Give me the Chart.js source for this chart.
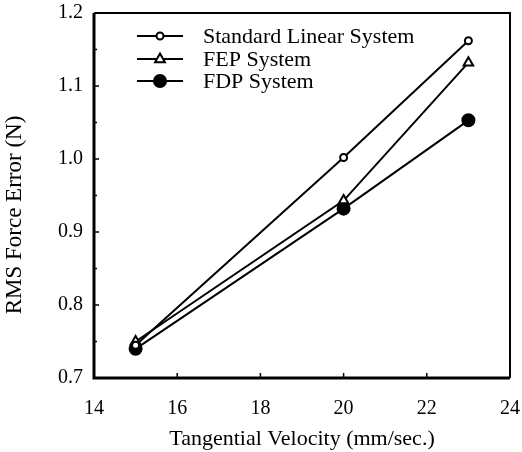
<!DOCTYPE html>
<html>
<head>
<meta charset="utf-8">
<script src="https://cdn.jsdelivr.net/npm/chart.js@4.4.1/dist/chart.umd.min.js"></script>
<style>
  html, body { margin: 0; padding: 0; background: #fff; }
  #wrap { width: 522px; height: 452px; }
</style>
</head>
<body>
<div id="wrap"><canvas id="chart" width="522" height="452"></canvas></div>
<script>
// values
var velocity = [15, 20, 23];
var standardRms = [0.745, 1.002, 1.162];
var fepRms = [0.75, 0.943, 1.132];
var fdpRms = [0.74, 0.932, 1.053];

var seriesNames = ["Standard Linear System", "FEP System", "FDP System"];
var xTicks = [14, 16, 18, 20, 22, 24];
var yTicks = [0.7, 0.8, 0.9, 1.0, 1.1, 1.2];
var yTitle = "RMS Force Error (N)";

var serif = "'Liberation Serif', 'DejaVu Serif', serif";

function toPoints(ys) {
  return velocity.map(function(v, i) { return { x: v, y: ys[i] }; });
}

// box round the plot + ticks pointing inward
var frame = {
  id: "frame",
  afterDatasetsDraw: function(chart) {
    var ctx = chart.ctx, a = chart.chartArea;
    var xs = chart.scales.x, ys = chart.scales.y;
    ctx.save();
    ctx.strokeStyle = "#000";
    ctx.lineWidth = 2;
    ctx.beginPath();
    ctx.moveTo(a.left, a.top); ctx.lineTo(a.right, a.top); ctx.lineTo(a.right, a.bottom);
    ctx.stroke();
    ctx.lineWidth = 3;
    ctx.beginPath();
    ctx.moveTo(a.left, a.top); ctx.lineTo(a.left, a.bottom); ctx.lineTo(a.right, a.bottom);
    ctx.stroke();
    ctx.lineWidth = 1.5;
    ctx.beginPath();
    xTicks.forEach(function(t) {
      var px = xs.getPixelForValue(t);
      ctx.moveTo(px, a.bottom); ctx.lineTo(px, a.bottom - 5);
    });
    yTicks.forEach(function(t, i) {
      var py = ys.getPixelForValue(t);
      ctx.moveTo(a.left, py); ctx.lineTo(a.left + 5, py);
      if (i < yTicks.length - 1) {
        var pm = ys.getPixelForValue(t + 0.05);
        ctx.moveTo(a.left, pm); ctx.lineTo(a.left + 3, pm);
      }
    });
    ctx.stroke();

    // y axis title, sits a bit below the plot middle in the original
    ctx.translate(15, 215);
    ctx.rotate(-Math.PI / 2);
    ctx.font = "23px " + serif;
    ctx.fillStyle = "#000";
    ctx.textAlign = "center";
    ctx.textBaseline = "middle";
    ctx.fillText(yTitle, 0, 0);
    ctx.restore();
  }
};

// legend drawn as line + marker + name, like the original
var lineLegend = {
  id: "lineLegend",
  afterDraw: function(chart) {
    var ctx = chart.ctx;
    var rows = [36, 59, 81];
    ctx.save();
    ctx.font = "22px " + serif;
    ctx.textBaseline = "middle";
    chart.data.datasets.forEach(function(ds, i) {
      var y = rows[i];
      ctx.strokeStyle = "#000";
      ctx.lineWidth = 2;
      ctx.beginPath();
      ctx.moveTo(137, y); ctx.lineTo(183, y);
      ctx.stroke();
      ctx.fillStyle = ds.pointBackgroundColor;
      ctx.lineWidth = ds.pointBorderWidth;
      ctx.beginPath();
      if (ds.pointStyle === "triangle") {
        var r = ds.pointRadius;
        ctx.moveTo(160, y - r); ctx.lineTo(160 + r * 0.9, y + r * 0.6); ctx.lineTo(160 - r * 0.9, y + r * 0.6);
        ctx.closePath();
      } else {
        ctx.arc(160, y, ds.pointRadius, 0, Math.PI * 2);
      }
      ctx.fill(); ctx.stroke();
      ctx.fillStyle = "#000";
      ctx.fillText(ds.label, 203, y + 1);
    });
    ctx.restore();
  }
};

function series(i, ys, style, radius, fill) {
  return {
    label: seriesNames[i],
    data: toPoints(ys),
    showLine: true,
    borderColor: "#000",
    borderWidth: 2,
    pointStyle: style,
    pointRadius: radius,
    pointHoverRadius: radius,
    pointBorderWidth: 2,
    pointBorderColor: "#000",
    pointBackgroundColor: fill
  };
}

function noEdgePadding(s) {
  s.paddingTop = 0; s.paddingBottom = 0; s.paddingLeft = 0; s.paddingRight = 0;
}

var ctx = document.getElementById("chart");
var chart = new Chart(ctx, {
  type: "scatter",
  data: {
    datasets: [
      series(0, standardRms, "circle", 3.5, "#fff"),
      series(1, fepRms, "triangle", 5.5, "#fff"),
      series(2, fdpRms, "circle", 6, "#000")
    ]
  },
  options: {
    responsive: false,
    animation: false,
    layout: { padding: { top: 13, right: 12, left: 0, bottom: 0 } },
    plugins: { legend: { display: false }, tooltip: { enabled: false } },
    scales: {
      x: {
        type: "linear", min: 14, max: 24,
        afterBuildTicks: function(s) { s.ticks = xTicks.map(function(v) { return { value: v }; }); },
        afterFit: function(s) { s.height = 74; noEdgePadding(s); },
        grid: { display: false },
        border: { display: false },
        ticks: { color: "#000", font: { family: serif, size: 20 }, padding: 11 },
        title: {
          display: true, text: "Tangential Velocity (mm/sec.)", color: "#000",
          font: { family: serif, size: 22 }, padding: { top: 2, bottom: 0 }
        }
      },
      y: {
        type: "linear", min: 0.7, max: 1.2,
        afterBuildTicks: function(s) { s.ticks = yTicks.map(function(v) { return { value: v }; }); },
        afterFit: function(s) { s.width = 94; noEdgePadding(s); },
        grid: { display: false },
        border: { display: false },
        ticks: {
          color: "#000", font: { family: serif, size: 20 }, padding: 3,
          callback: function(v) { return v.toFixed(1); }
        },
        title: { display: false }
      }
    }
  },
  plugins: [frame, lineLegend]
});
</script>
</body>
</html>
